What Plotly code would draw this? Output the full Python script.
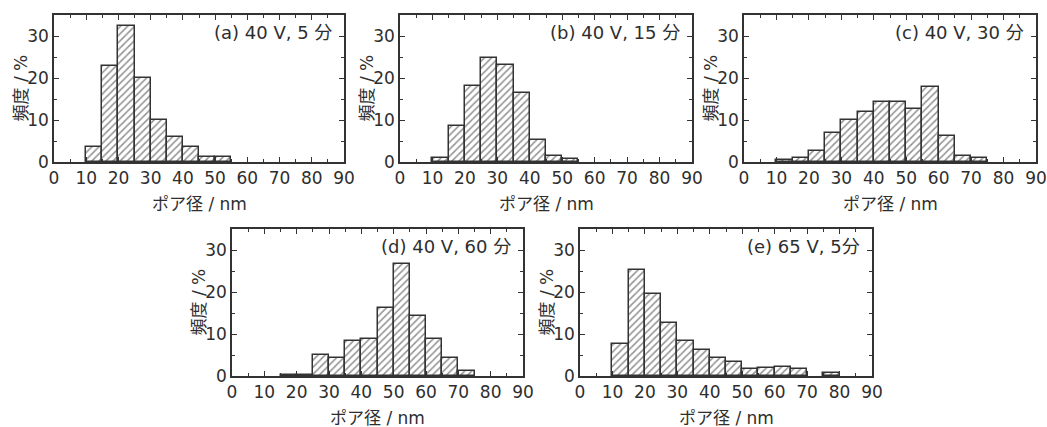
import plotly.graph_objects as go

# bin centres (nm), 5 nm bins
bins = [12.5, 17.5, 22.5, 27.5, 32.5, 37.5, 42.5, 47.5, 52.5, 57.5, 62.5, 67.5, 72.5, 77.5]
freq_a = [3.6, 22.8, 32.5, 20.0, 9.9, 6.0, 3.6, 1.2, 1.1, 0, 0, 0, 0, 0]
freq_b = [1.0, 8.5, 18.0, 24.7, 23.2, 16.5, 5.2, 1.4, 0.6, 0, 0, 0, 0, 0]
freq_c = [0.4, 1.0, 2.6, 6.9, 9.9, 12.0, 14.2, 14.2, 12.6, 17.9, 6.3, 1.4, 1.0, 0]
freq_d = [0, 0.2, 0.2, 4.9, 4.3, 8.4, 8.9, 16.2, 26.6, 14.2, 8.9, 4.3, 1.1, 0]
freq_e = [7.7, 25.3, 19.5, 12.6, 8.3, 6.3, 4.3, 3.4, 1.6, 2.0, 2.2, 1.7, 0, 0.8]
labels = ["(a) 40 V, 5 分", "(b) 40 V, 15 分", "(c) 40 V, 30 分", "(d) 40 V, 60 分", "(e) 65 V, 5分"]
x_ticks = [0, 10, 20, 30, 40, 50, 60, 70, 80, 90]
y_ticks = [0, 10, 20, 30]
x_title = "ポア径 / nm"
y_title = "頻度 / %"

W, H = 1047, 427
boxes = [(54, 344, 15, 162), (400, 692, 15, 162), (744, 1036, 15, 162),
         (232, 523, 229, 376), (580, 872, 229, 376)]
series = [freq_a, freq_b, freq_c, freq_d, freq_e]

FONT = "DejaVu Sans, Noto Sans CJK JP, sans-serif"
TXT = "#2e2e2e"
LINE = "#333333"

fig = go.Figure()
layout = dict(width=W, height=H, margin=dict(l=0, r=0, t=0, b=0, autoexpand=False),
              paper_bgcolor="white", plot_bgcolor="white", showlegend=False,
              bargap=0, font=dict(family=FONT, size=17, color=TXT))
annotations = []
for i, (vals, (x0, x1, y0, y1)) in enumerate(zip(series, boxes)):
    n = "" if i == 0 else str(i + 1)
    xs = [b for b, v in zip(bins, vals) if v > 0]
    ys = [v for v in vals if v > 0]
    fig.add_trace(go.Bar(x=xs, y=ys, width=5, xaxis="x" + n, yaxis="y" + n,
                         marker=dict(color="white", line=dict(color=LINE, width=1.5),
                                     pattern=dict(shape="/", fgcolor="#2a2a2a", bgcolor="white",
                                                  size=5, solidity=0.32))))
    common = dict(showline=True, linecolor=LINE, linewidth=1.6, mirror="ticks",
                  ticks="inside", ticklen=5, tickwidth=1.3, tickcolor=LINE,
                  showgrid=False, zeroline=False, automargin=False,
                  ticklabeloverflow="allow",
                  tickfont=dict(family=FONT, size=17, color=TXT))
    layout["xaxis" + n] = dict(common, domain=[x0 / W, x1 / W], range=[0, 90],
                               anchor="y" + n, tickvals=x_ticks,
                               minor=dict(ticks="inside", ticklen=3, dtick=5, tick0=0,
                                          tickcolor=LINE, tickwidth=1.3))
    layout["yaxis" + n] = dict(common, domain=[1 - y1 / H, 1 - y0 / H], range=[0, 35],
                               anchor="x" + n, tickvals=y_ticks,
                               minor=dict(ticks="inside", ticklen=3, dtick=5, tick0=0,
                                          tickcolor=LINE, tickwidth=1.3))
    annotations.append(dict(text=labels[i], xref="x" + n + " domain", yref="y" + n + " domain",
                            x=0.965, y=0.884, xanchor="right", yanchor="middle", showarrow=False,
                            font=dict(family=FONT, size=18, color=TXT)))
    annotations.append(dict(text=x_title, xref="paper", yref="paper",
                            x=(x0 + x1) / 2 / W, y=1 - (y1 + 42) / H,
                            xanchor="center", yanchor="middle", showarrow=False,
                            font=dict(family=FONT, size=17, color=TXT)))
    annotations.append(dict(text=y_title, xref="paper", yref="paper", textangle=-90,
                            x=(x0 - 34) / W, y=1 - (y0 + y1) / 2 / H,
                            xanchor="center", yanchor="middle", showarrow=False,
                            font=dict(family=FONT, size=17, color=TXT)))
layout["annotations"] = annotations
fig.update_layout(**layout)
fig.write_html("out.html", config={"displayModeBar": False},
               post_script="document.body.style.margin='0';")
